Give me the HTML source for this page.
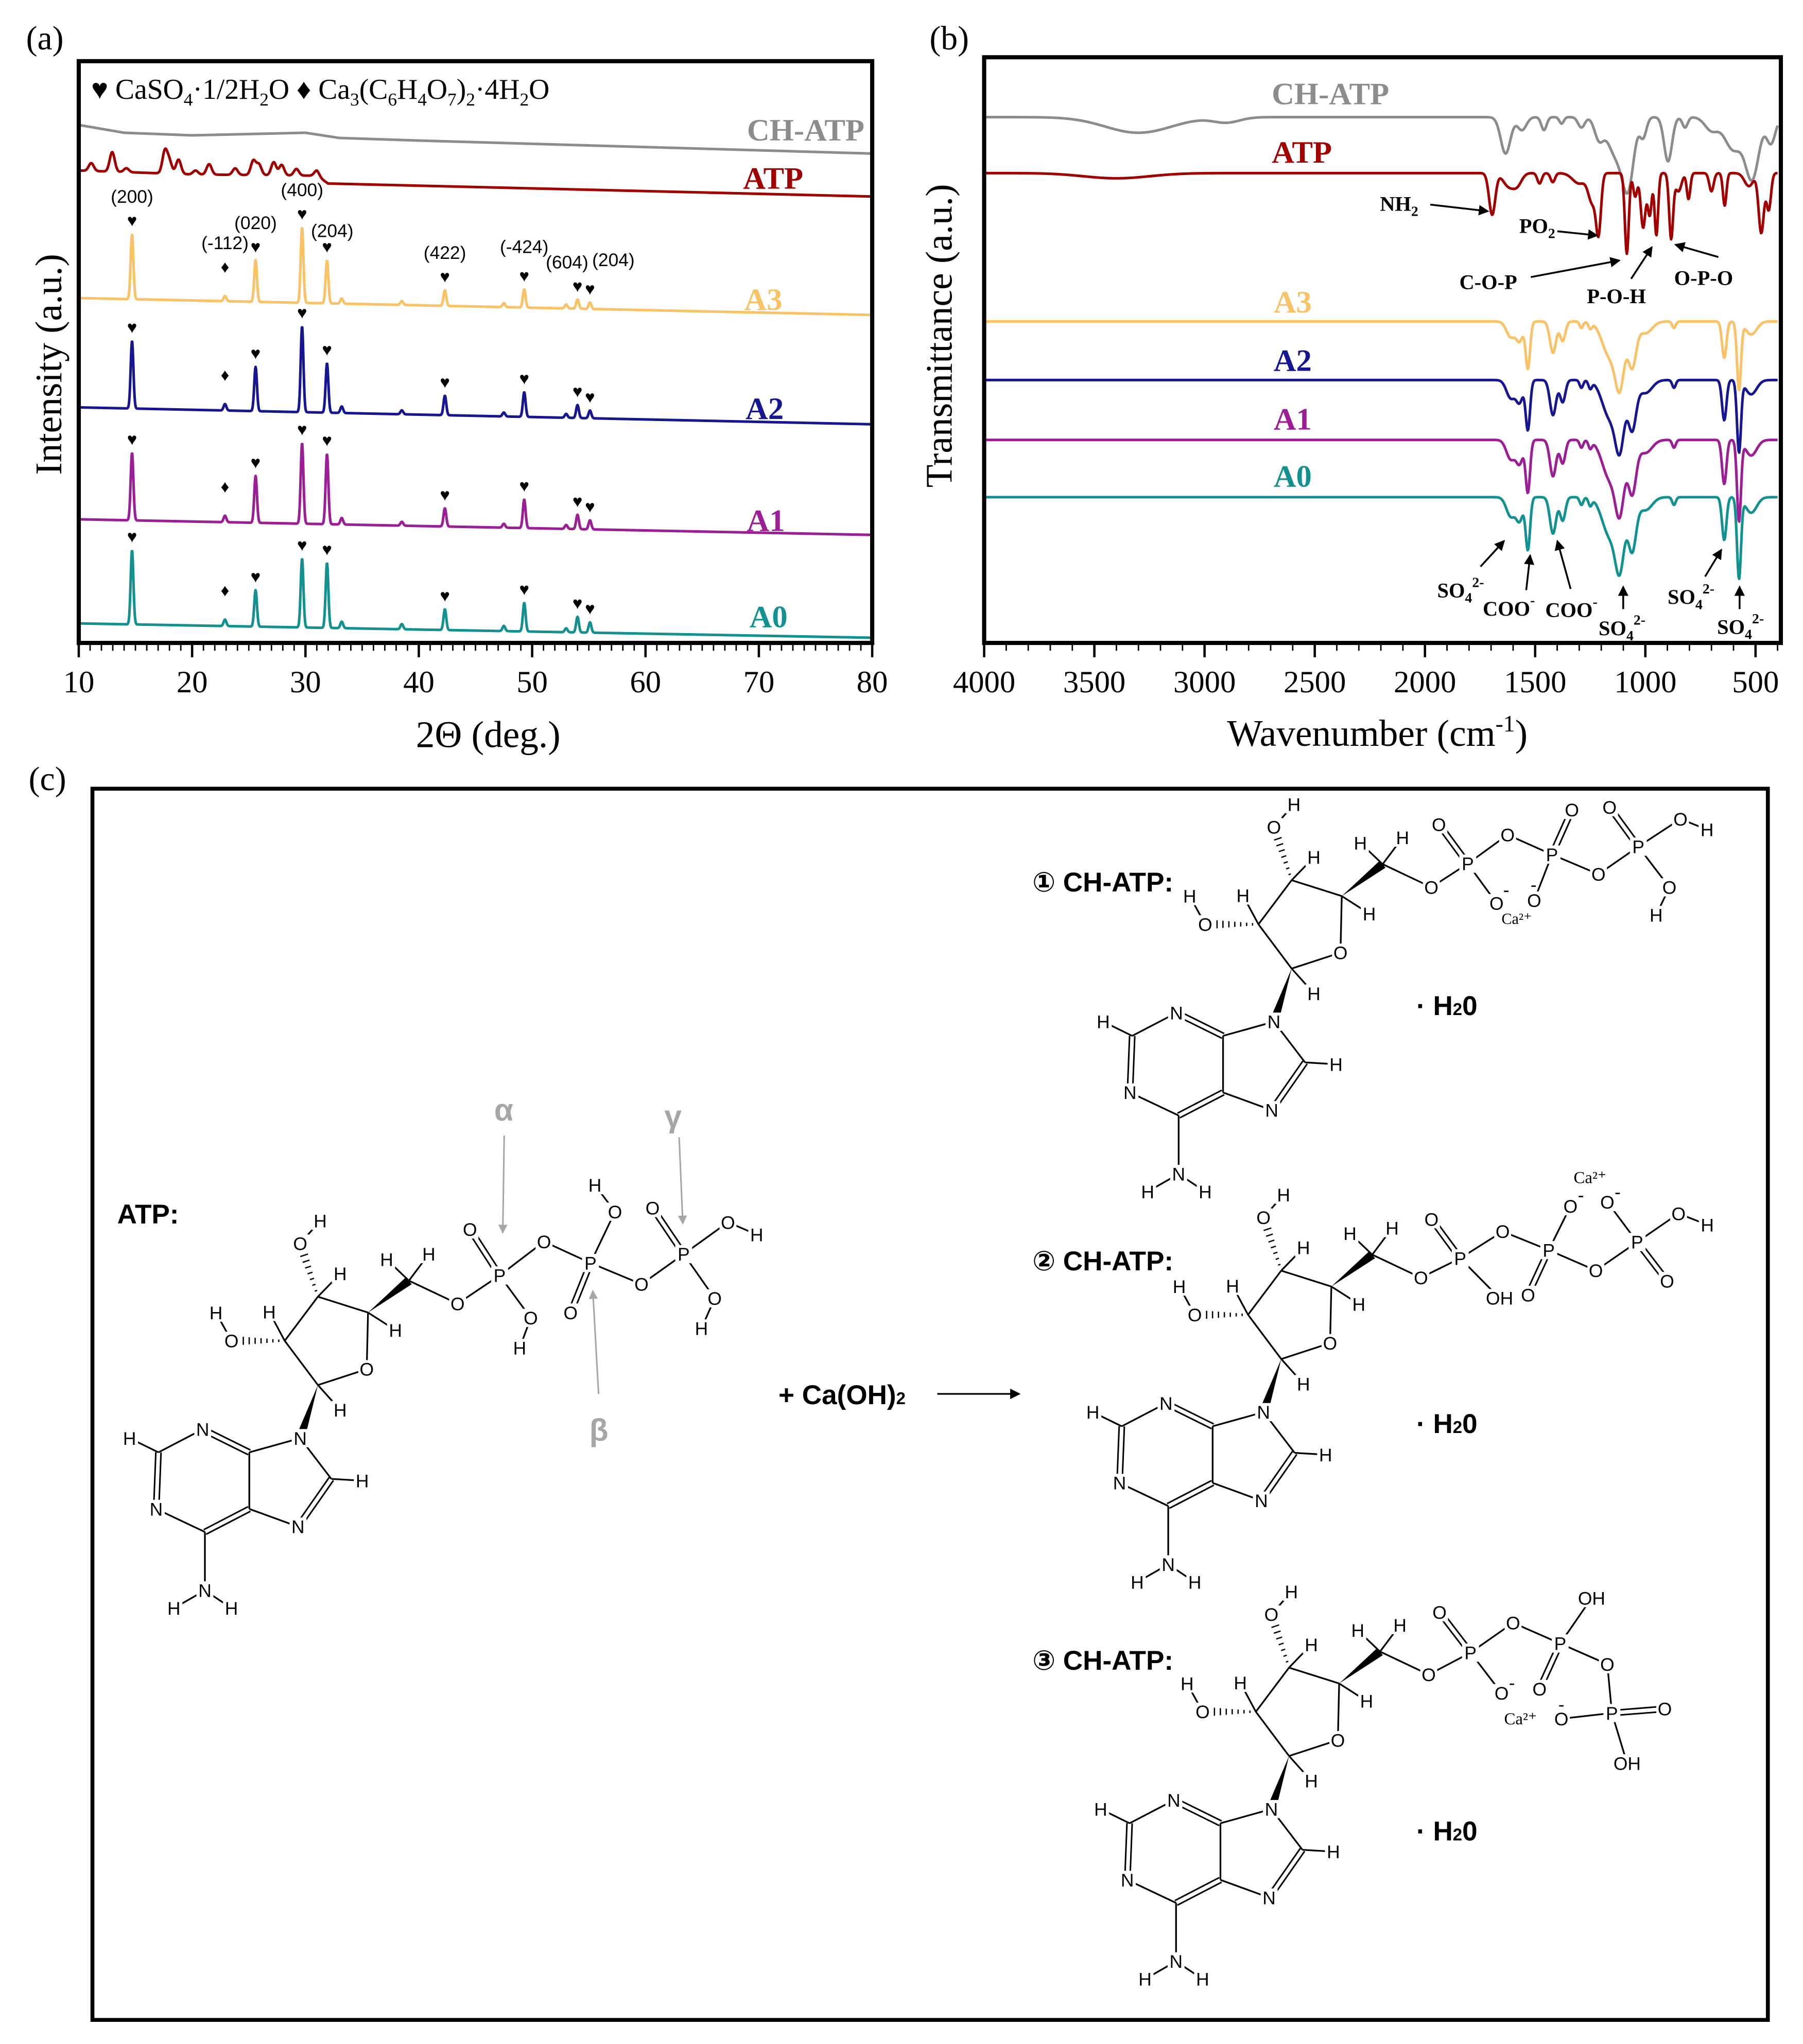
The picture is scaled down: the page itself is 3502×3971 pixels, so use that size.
<!DOCTYPE html>
<html><head><meta charset="utf-8"><style>
html,body{margin:0;padding:0;background:#fff}
svg{display:block}
.ser{font-family:"Liberation Serif",serif}
.sans{font-family:"Liberation Sans","DejaVu Sans",sans-serif}
.atom{font-family:"Liberation Sans",sans-serif;font-size:14px;text-anchor:middle;dominant-baseline:central}
</style></head><body>
<svg id="fig" xmlns="http://www.w3.org/2000/svg" width="3502" height="3971" viewBox="0 0 1385 1570.5">
<rect x="0" y="0" width="1385" height="1570.5" fill="#fff"/>
<text class="ser" x="20" y="38" font-size="26">(a)</text>
<text class="ser" x="714" y="38" font-size="26">(b)</text>
<text class="ser" x="22" y="607" font-size="26">(c)</text>

<g id="xrd">
<g id="xrdTicks"></g>
<g id="xrdLines"></g>
<g id="xrdMarks"></g>
<rect x="60.5" y="47" width="609.5" height="447" fill="none" stroke="#000" stroke-width="3.2"/>
<text class="ser" x="70" y="76" font-size="22">♥ CaSO<tspan font-size="14" dy="5">4</tspan><tspan dy="-5">·1/2H</tspan><tspan font-size="14" dy="5">2</tspan><tspan dy="-5">O  ♦ Ca</tspan><tspan font-size="14" dy="5">3</tspan><tspan dy="-5">(C</tspan><tspan font-size="14" dy="5">6</tspan><tspan dy="-5">H</tspan><tspan font-size="14" dy="5">4</tspan><tspan dy="-5">O</tspan><tspan font-size="14" dy="5">7</tspan><tspan dy="-5">)</tspan><tspan font-size="14" dy="5">2</tspan><tspan dy="-5">·4H</tspan><tspan font-size="14" dy="5">2</tspan><tspan dy="-5">O</tspan></text>
<g class="ser" font-weight="bold" font-size="24" text-anchor="end">
<text x="664" y="108" fill="#8c8c8c">CH-ATP</text>
<text x="617" y="145" fill="#a00000">ATP</text>
<text x="601" y="238" fill="#f9c267">A3</text>
<text x="602" y="322" fill="#161690">A2</text>
<text x="603" y="408" fill="#9b1e95">A1</text>
<text x="605" y="482" fill="#139090">A0</text>
</g>
<text class="ser" x="375" y="574" font-size="29" text-anchor="middle">2Θ (deg.)</text>
<text class="ser" transform="translate(47,280) rotate(-90)" font-size="29" text-anchor="middle">Intensity (a.u.)</text>
</g>

<g id="ftir">
<g id="ftTicks"></g>
<g id="ftLines"></g>
<rect x="756" y="44" width="612" height="450" fill="none" stroke="#000" stroke-width="3.2"/>
<g class="ser" font-weight="bold" font-size="24" text-anchor="middle">
<text x="1022" y="80" fill="#8c8c8c">CH-ATP</text>
<text x="1000" y="125" fill="#a00000">ATP</text>
<text x="993" y="240" fill="#f9c267">A3</text>
<text x="993" y="285" fill="#161690">A2</text>
<text x="993" y="330" fill="#9b1e95">A1</text>
<text x="993" y="374" fill="#139090">A0</text>
</g>
<defs><marker id="ah" markerWidth="8" markerHeight="8" refX="7" refY="4" orient="auto" markerUnits="userSpaceOnUse"><path d="M0,0 L8,4 L0,8 z" fill="#000"/></marker></defs>
<g class="ser" font-weight="bold" font-size="16">
<text x="1060" y="162">NH<tspan font-size="11" dy="4">2</tspan></text>
<text x="1167" y="179">PO<tspan font-size="11" dy="4">2</tspan></text>
<text x="1121" y="222">C-O-P</text>
<text x="1219" y="233">P-O-H</text>
<text x="1286" y="219">O-P-O</text>
<g stroke="#000" stroke-width="1.4" fill="none" marker-end="url(#ah)">
<line x1="1098.7" y1="157.2" x2="1143" y2="162.3"/>
<line x1="1196.3" y1="177.7" x2="1226.9" y2="180.9"/>
<line x1="1175.9" y1="212.9" x2="1244" y2="200.1"/>
<line x1="1253" y1="214.2" x2="1268.9" y2="189.9"/>
<line x1="1320" y1="197.5" x2="1287" y2="188"/>
<line x1="1137.3" y1="435.3" x2="1155.4" y2="415.6"/>
<line x1="1172.4" y1="453.4" x2="1175.4" y2="426.7"/>
<line x1="1206.5" y1="452.5" x2="1196.3" y2="415.6"/>
<line x1="1246.9" y1="468" x2="1246.9" y2="450.8"/>
<line x1="1309.8" y1="443" x2="1322.3" y2="422.4"/>
<line x1="1336.3" y1="468" x2="1336.3" y2="450.8"/>
</g>
<text x="1104" y="459">SO<tspan font-size="11" dy="4">4</tspan><tspan font-size="11" dy="-12">2-</tspan></text>
<text x="1139" y="473">COO<tspan font-size="11" dy="-8">-</tspan></text>
<text x="1187" y="474">COO<tspan font-size="11" dy="-8">-</tspan></text>
<text x="1228" y="488">SO<tspan font-size="11" dy="4">4</tspan><tspan font-size="11" dy="-12">2-</tspan></text>
<text x="1281" y="464">SO<tspan font-size="11" dy="4">4</tspan><tspan font-size="11" dy="-12">2-</tspan></text>
<text x="1319" y="487">SO<tspan font-size="11" dy="4">4</tspan><tspan font-size="11" dy="-12">2-</tspan></text>
</g>
<text class="ser" x="1058" y="573" font-size="29" text-anchor="middle">Wavenumber (cm<tspan font-size="18" dy="-11">-1</tspan><tspan dy="11">)</tspan></text>
<text class="ser" transform="translate(731,258) rotate(-90)" font-size="29" text-anchor="middle">Transmittance (a.u.)</text>
</g>

<g id="panelc">
<rect x="71" y="606" width="1287" height="946" fill="none" stroke="#000" stroke-width="3"/>
<g id="mol"></g>
<g class="sans" font-weight="bold" font-size="21">
<text x="90" y="940">ATP:</text>
<text x="793" y="685">① CH-ATP:</text>
<text x="793" y="976">② CH-ATP:</text>
<text x="793" y="1283">③ CH-ATP:</text>
<text x="1088" y="780">· H<tspan font-size="13">2</tspan>0</text>
<text x="1088" y="1101">· H<tspan font-size="13">2</tspan>0</text>
<text x="1088" y="1414">· H<tspan font-size="13">2</tspan>0</text>
<text x="598" y="1079">+ Ca(OH)<tspan font-size="13">2</tspan></text>
</g>
<line x1="720" y1="1071" x2="783" y2="1071" stroke="#000" stroke-width="1.3" marker-end="url(#ah)"/>
<g class="sans" font-weight="bold" font-size="24" fill="#a6a6a6" text-anchor="middle">
<text x="387" y="861">α</text>
<text x="517" y="866">γ</text>
<text x="460" y="1107">β</text>
</g>
<defs><marker id="ahg" markerWidth="7" markerHeight="7" refX="6" refY="3.5" orient="auto" markerUnits="userSpaceOnUse"><path d="M0,0 L7,3.5 L0,7 z" fill="#a6a6a6"/></marker></defs>
<g stroke="#a6a6a6" stroke-width="1.2" marker-end="url(#ahg)">
<line x1="387.3" y1="872.5" x2="386.2" y2="947"/>
<line x1="521.7" y1="873.8" x2="524.5" y2="940"/>
<line x1="459.8" y1="1071" x2="455.4" y2="992"/>
</g>
</g>
</svg>
<script>
// ===== XRD data =====
const xrdSeriesNames = ["CH-ATP","ATP","A3","A2","A1","A0"];
const xrdColors = ["#8c8c8c","#a00000","#f9c267","#161690","#9b1e95","#139090"];
const xrdTickLabels = [10,20,30,40,50,60,70,80];
const chBaseX = [10,14,20,30,33,40,80];
const chBaseV = [398,392,390,392,388,386,376];
const atpBaseX = [10,20,31,32,80];
const atpBaseV = [363,360,359,353,343];
const atpPeakPos = [11.1,12.95,14.2,17.6,18.0,18.8,20.3,21.5,23.8,25.4,25.9,27.2,27.9,29.2,31.0];
const atpPeakH = [6,15,3,17,9,11,3,8,5,11,8,10,8,5,4];
const xrdPeakPos = [14.7,22.9,25.6,29.7,31.9,33.2,38.5,42.3,47.5,49.3,53.0,54.0,55.1];
const a3PeakH = [50,4,32,58,33,4,3,12,3,14,3,7,5];
const a2PeakH = [52,5,34,66,38,5,3,15,3,19,3,10,6];
const a1PeakH = [52,5,36,62,54,5,3,14,3,22,3,11,7];
const a0PeakH = [57,5,28,53,50,5,4,16,4,22,3,12,8];
const a3Base = [265,252];
const a2Base = [181,168];
const a1Base = [95,83];
const a0Base = [15,4];
const millerLabels = ["(200)","(-112)","(020)","(400)","(204)","","","(422)","","(-424)","","(604)","(204)"];

// ===== FTIR data =====
const ftTickLabels = [4000,3500,3000,2500,2000,1500,1000,500];
const ftBase = [404,361,247,202,156,112];
const ftDipsCH = [[3300,12,150],[2900,4,60],[1634,28,22],[1560,10,20],[1460,10,12],[1380,5,10],[1290,8,15],[1211,15,20],[1130,30,40],[1077,45,25],[1010,15,15],[897,34,18],[820,8,12],[700,10,30],[600,25,40],[515,46,30],[430,20,20]];
const ftDipsATP = [[3400,4,150],[1695,32,14],[1620,10,25],[1580,8,20],[1480,8,10],[1420,7,10],[1300,8,30],[1240,22,18],[1212,42,11],[1084,62,9],[1046,18,9],[1010,42,11],[980,32,9],[950,48,8],[883,50,9],[850,14,14],[804,20,8],[700,14,10],[640,25,8],[530,10,20],[474,46,12],[440,28,10]];
const ftDipsA3 = [[1610,12,20],[1570,14,15],[1533,36,10],[1419,24,14],[1375,15,12],[1290,5,8],[1250,5,8],[1160,27,35],[1115,42,20],[1060,34,18],[1000,9,30],[870,5,8],[642,28,10],[575,52,9],[520,10,25]];
const ftDipsA2 = [[1610,14,20],[1570,16,15],[1533,38,10],[1419,27,14],[1375,17,12],[1290,6,8],[1250,6,8],[1160,29,35],[1115,44,20],[1060,37,18],[1000,10,30],[870,6,8],[642,31,10],[575,55,9],[520,11,25]];
const ftDipsA1 = [[1610,15,20],[1570,17,15],[1533,40,10],[1419,28,14],[1375,18,12],[1290,6,8],[1250,6,8],[1160,30,35],[1115,46,20],[1060,40,18],[1000,10,30],[870,6,8],[642,34,10],[575,62,9],[520,12,25]];
const ftDipsA0 = [[1610,15,20],[1570,17,15],[1533,40,10],[1419,28,14],[1375,18,12],[1290,6,8],[1250,6,8],[1160,30,35],[1115,46,20],[1060,40,18],[1000,10,30],[870,6,8],[642,33,10],[575,62,9],[520,12,25]];

const NS = "http://www.w3.org/2000/svg";
function mk(tag, attrs, parent){const e=document.createElementNS(NS,tag);for(const k in attrs)e.setAttribute(k,attrs[k]);parent.appendChild(e);return e;}
function interp(xs,vs,x){if(x<=xs[0])return vs[0];for(let i=1;i<xs.length;i++){if(x<=xs[i]){const t=(x-xs[i-1])/(xs[i]-xs[i-1]);return vs[i-1]+t*(vs[i]-vs[i-1]);}}return vs[vs.length-1];}
const g = (x,c,s)=>Math.exp(-0.5*((x-c)/s)*((x-c)/s));

const xA = v => 60.5 + (v-10)*(609.5/70);
const yA = c => 494 - c;
const xt = document.getElementById('xrdTicks');
for(let v=10; v<=80; v++){
  const major = v%10===0;
  const t = mk('line',{x1:xA(v),x2:xA(v),y1:494,y2:494+(major?11:6),stroke:'#000','stroke-width':major?1.8:1.1},xt);
  
  
}
xrdTickLabels.forEach(v=>{
  const t = mk('text',{x:xA(v),y:532,'font-size':24,'text-anchor':'middle',class:'ser'},xt);
  t.textContent=v;
  
  
});
const xl = document.getElementById('xrdLines');
function xrdPath(baseFn, pos, hts, sig){
  let d='';
  for(let x=10; x<=80.0001; x+=0.04){
    let c = baseFn(x);
    for(let i=0;i<pos.length;i++) c += hts[i]*g(x,pos[i],sig);
    d += (d?'L':'M')+xA(x).toFixed(2)+','+yA(c).toFixed(2);
  }
  return d;
}
const lin = b => x => b[0]+(b[1]-b[0])*(x-10)/70;
const xrdDefs = [
  [x=>interp(chBaseX,chBaseV,x),[],[],0.2],
  [x=>interp(atpBaseX,atpBaseV,x),atpPeakPos,atpPeakH,0.22],
  [lin(a3Base),xrdPeakPos,a3PeakH,0.12],
  [lin(a2Base),xrdPeakPos,a2PeakH,0.12],
  [lin(a1Base),xrdPeakPos,a1PeakH,0.12],
  [lin(a0Base),xrdPeakPos,a0PeakH,0.12]
];
xrdDefs.forEach((s,i)=>{
  const p = mk('path',{d:xrdPath(s[0],s[1],s[2],s[3]),fill:'none',stroke:xrdColors[i],'stroke-width':2,'stroke-linejoin':'round'},xl);
  
  
});
const xm = document.getElementById('xrdMarks');
const markIdx = [0,1,2,3,4,7,9,11,12];
[[lin(a3Base),a3PeakH],[lin(a2Base),a2PeakH],[lin(a1Base),a1PeakH],[lin(a0Base),a0PeakH]].forEach((s,si)=>{
  markIdx.forEach(i=>{
    const x = xrdPeakPos[i];
    let top = s[0](x)+s[1][i];
    if(i===1) top += 12;
    const m = mk('text',{x:xA(x),y:yA(top)-6,'font-size':13,'text-anchor':'middle',class:'ser'},xm);
    m.textContent = i===1 ? '♦' : '♥';
    
    
    if(si===0 && millerLabels[i]){
      let lx = xA(x), ly = yA(top)-24;
      if(i===4){lx+=4; ly+=6;}
      if(i===11){lx-=8;}
      if(i===12){lx+=18; ly-=4;}
      if(i===9){ly-=4;}
      const l = mk('text',{x:lx,y:ly,'font-size':14,'text-anchor':'middle',class:'sans'},xm);
      l.textContent = millerLabels[i];
      
      
    }
  });
});

const xB = w => 756 + (4000-w)*0.16930;
const yB = t => 494 - t;
const ft = document.getElementById('ftTicks');
for(let w=4000; w>=400; w-=100){
  const major = w%500===0;
  const t = mk('line',{x1:xB(w),x2:xB(w),y1:494,y2:494+(major?11:6),stroke:'#000','stroke-width':major?1.8:1.1},ft);
  
  
}
ftTickLabels.forEach(v=>{
  const t = mk('text',{x:xB(v),y:532,'font-size':24,'text-anchor':'middle',class:'ser'},ft);
  t.textContent=v;
  
  
});
const fl = document.getElementById('ftLines');
[ftDipsCH,ftDipsATP,ftDipsA3,ftDipsA2,ftDipsA1,ftDipsA0].forEach((dips,i)=>{
  let d='';
  for(let w=4000; w>=400; w-=3){
    let t = ftBase[i];
    dips.forEach(dp=>{ t -= dp[1]*g(w,dp[0],dp[2]); });
    d += (d?'L':'M')+xB(w).toFixed(2)+','+yB(t).toFixed(2);
  }
  const p = mk('path',{d:d,fill:'none',stroke:xrdColors[i],'stroke-width':2,'stroke-linejoin':'round'},fl);
  
  
});

// ===== Molecules =====
const mol = document.getElementById('mol');
const NUC = {C3:[244.2,996.3],H3:[261.3,978.6,'H'],O3:[230.6,955.4,'O'],HO3:[246,938,'H'],C2:[218.7,1030.2],H2:[206.8,1008,'H'],O2:[177.8,1030.2,'O'],HO2:[165.9,1008.5,'H'],C4:[282.7,1008.5],H4:[303.8,1022,'H'],O4:[281.7,1052,'O'],C1:[244.2,1064.2],H1:[261.3,1083.3,'H'],C5:[314.1,984],H5a:[297,967.7,'H'],H5b:[329.4,963.6,'H'],O5:[351.5,1001.7,'O'],N9:[230.6,1105,'N'],C8:[254.5,1136.3],H8:[278.3,1137.7,'H'],N7:[228.9,1173,'N'],C5p:[191.5,1159.4],C4p:[191.5,1115.9],N3:[155.7,1098.2,'N'],C2p:[121.7,1115.9],H2p:[99.5,1105,'H'],N1:[120,1159.4,'N'],C6:[157.4,1177.1],N6:[157.4,1222,'N'],H6a:[133.6,1235.6,'H'],H6b:[177.8,1235.6,'H']};
const NUCB = [['C3','H3',1],['O3','HO3',1],['C2','H2',1],['O2','HO2',1],['C4','H4',1],['C4','O4',1],['O4','C1',1],['C1','H1',1],['C3','C4',1],['C2','C3',1],['C1','C2',1],['C5','H5a',1],['C5','H5b',1],['C5','O5',1],['C8','H8',1],['N9','C8',1],['N9','C4p',1],['C4p','N3',2],['C2p','H2p',1],['N3','C2p',1],['C2p','N1',2],['C5p','N7',1],['C8','N7',2],['C6','N6',1],['N6','H6a',1],['N6','H6b',1],['C4p','C5p',1],['N1','C6',1],['C6','C5p',2],['C3','O3','hash'],['C2','O2','hash'],['C4','C5','wedge'],['C1','N9','wedge']];
function bond(a,b,type,par){
  const [x1,y1]=a,[x2,y2]=b;
  if(type===1){mk('line',{x1,y1,x2,y2,stroke:'#000','stroke-width':1.3},par);}
  else if(type===2){const dx=x2-x1,dy=y2-y1,L=Math.hypot(dx,dy),nx=-dy/L*2,ny=dx/L*2;
    mk('line',{x1:x1+nx,y1:y1+ny,x2:x2+nx,y2:y2+ny,stroke:'#000','stroke-width':1.2},par);
    mk('line',{x1:x1-nx,y1:y1-ny,x2:x2-nx,y2:y2-ny,stroke:'#000','stroke-width':1.2},par);}
  else if(type==='wedge'){const dx=x2-x1,dy=y2-y1,L=Math.hypot(dx,dy),nx=-dy/L*3.5,ny=dx/L*3.5;
    mk('polygon',{points:`${x1},${y1} ${x2+nx},${y2+ny} ${x2-nx},${y2-ny}`,fill:'#000'},par);}
  else if(type==='hash'){const dx=x2-x1,dy=y2-y1,L=Math.hypot(dx,dy),ux=-dy/L,uy=dx/L;
    for(let k=1;k<=7;k++){const t=k/9,w=0.6+t*3.2,cx=x1+dx*t,cy=y1+dy*t;
      mk('line',{x1:cx+ux*w,y1:cy+uy*w,x2:cx-ux*w,y2:cy-uy*w,stroke:'#000','stroke-width':1},par);}}
}
function label(x,y,t,par){
  const w = t.length>1 ? 10*t.length : 6.5;
  mk('rect',{x:x-w,y:y-7,width:2*w,height:14,fill:'#fff'},par);
  const e=mk('text',{x,y:y+0.5,class:'atom'},par);e.textContent=t;return e;
}
function drawMolecule(dx,dy,chainAtoms,chainBonds,extras,name){
  const grp = mk('g',{},mol);
  
  
  const P = {};
  for(const k in NUC) P[k]=[NUC[k][0]+dx,NUC[k][1]+dy,NUC[k][2]];
  for(const k in chainAtoms) P[k]=chainAtoms[k];
  NUCB.concat(chainBonds).forEach(b=>bond(P[b[0]],P[b[1]],b[2],grp));
  for(const k in P){ if(P[k][2]) label(P[k][0],P[k][1],P[k][2],grp); }
  extras.forEach(e=>{
    const t=mk('text',{x:e[0],y:e[1],'font-size':e[3]||14,'text-anchor':'middle','dominant-baseline':'central',class:e[4]||'sans'},grp);
    t.textContent=e[2];
  });
}
drawMolecule(0,0,{Pa:[383.8,980,'P'],Oa1:[361,944.6,'O'],Oa2:[407.7,1012.6,'O'],Ha2:[399.2,1035.7,'H'],Ob1:[417.9,954,'O'],Pb:[453.6,970.4,'P'],Ob2:[472.4,931,'O'],Hb2:[457,910.6,'H'],Ob3:[438.3,1008.5,'O'],Og1:[492.8,986.7,'O'],Pg:[525.2,963.6,'P'],Og2:[501.3,928.2,'O'],Og3:[559.2,939.1,'O'],Hg3:[581.3,948.6,'H'],Og4:[549,997.6,'O'],Hg4:[538.8,1020.7,'H']},
 [['O5','Pa',1],['Pa','Oa1',2],['Pa','Oa2',1],['Oa2','Ha2',1],['Pa','Ob1',1],['Ob1','Pb',1],['Pb','Ob2',1],['Ob2','Hb2',1],['Pb','Ob3',2],['Pb','Og1',1],['Og1','Pg',1],['Pg','Og2',2],['Pg','Og3',1],['Og3','Hg3',1],['Pg','Og4',1],['Og4','Hg4',1]],[],'atp-structure');
drawMolecule(748,-320,{P1:[1127.5,663.6,'P'],O1d:[1105.3,633.4,'O'],O1m:[1149.6,693.9,'O'],Ob:[1158.1,641.4,'O'],P2:[1192.2,656.6,'P'],O2d:[1207.5,622.3,'O'],O2m:[1178.5,691.9,'O'],Ob2:[1227.9,671.7,'O'],P3:[1258.5,650.5,'P'],O3d:[1236.4,620.2,'O'],O3h:[1290.9,629.3,'O'],H3h:[1311.3,637.4,'H'],O3k:[1282.4,681.8,'O'],H3k:[1272.2,703,'H']},
 [['O5','P1',1],['P1','O1d',2],['P1','O1m',1],['P1','Ob',1],['Ob','P2',1],['P2','O2d',2],['P2','O2m',1],['P2','Ob2',1],['Ob2','P3',1],['P3','O3d',2],['P3','O3h',1],['O3h','H3h',1],['P3','O3k',1],['O3k','H3k',1]],
 [[1157,684,'-',14],[1178,680,'-',14],[1165,706,'Ca²⁺',12,'ser']],'product-1-structure');
drawMolecule(740,-20,{P1:[1121.7,966.8,'P'],O1d:[1099.6,936.8,'O'],O1h:[1151.9,997.4,'OH'],Ob:[1154.3,946.2,'O'],P2:[1189.7,960.5,'P'],O2m:[1206.4,926.8,'O'],O2d:[1173.8,994.9,'O'],Ob2:[1225.9,976.2,'O'],P3:[1257.6,954.3,'P'],O3m:[1234.7,923.6,'O'],O3h:[1289.4,932.4,'O'],H3h:[1311.5,941.1,'H'],O3d:[1280.6,984.3,'O']},
 [['O5','P1',1],['P1','O1d',2],['P1','O1h',1],['P1','Ob',1],['Ob','P2',1],['P2','O2m',1],['P2','O2d',2],['P2','Ob2',1],['Ob2','P3',1],['P3','O3m',1],['P3','O3h',1],['O3h','H3h',1],['P3','O3d',2]],
 [[1214.4,918.6,'-',14],[1242.6,916.1,'-',14],[1221.4,905,'Ca²⁺',13,'ser']],'product-2-structure');
drawMolecule(746,285,{P1:[1129.6,1269.8,'P'],O1d:[1105.8,1238.7,'O'],O1m:[1153.5,1300.9,'O'],Ob:[1162.3,1246.9,'O'],P2:[1198.5,1262.8,'P'],O2h:[1222.6,1227.9,'OH'],O2d:[1182.6,1297.7,'O'],Ob2:[1234.7,1278.7,'O'],P3:[1238.2,1316.2,'P'],O3m:[1199.4,1320.6,'O'],O3d:[1278.8,1313,'O'],O3h:[1249.9,1354.9,'OH']},
 [['O5','P1',1],['P1','O1d',2],['P1','O1m',1],['P1','Ob',1],['Ob','P2',1],['P2','O2h',1],['P2','O2d',2],['P2','Ob2',1],['Ob2','P3',1],['P3','O3m',1],['P3','O3d',2],['P3','O3h',1]],
 [[1161.4,1293.3,'-',14],[1199.4,1309.8,'-',14],[1168,1321,'Ca²⁺',13,'ser']],'product-3-structure');
</script>
</body></html>
